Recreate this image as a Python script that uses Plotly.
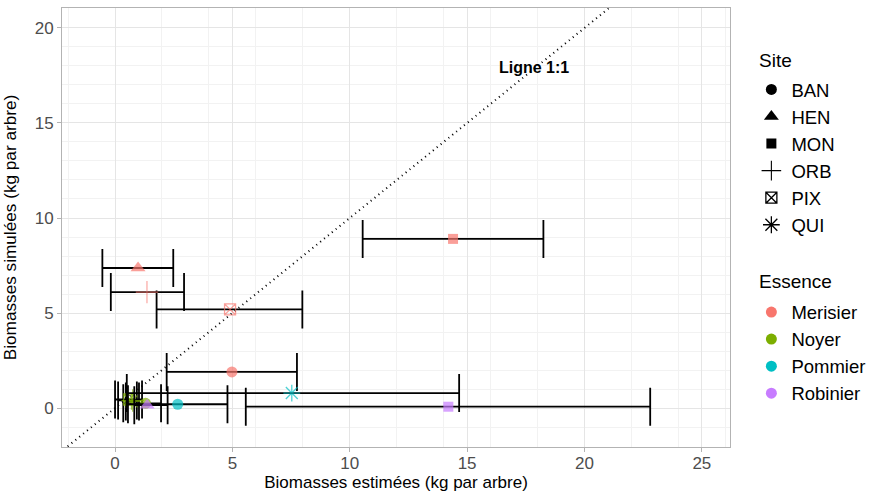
import plotly.graph_objects as go

# ---- data ----
essence = ["Merisier", "Merisier", "Merisier", "Merisier", "Merisier",
           "Noyer", "Noyer", "Noyer", "Noyer",
           "Pommier", "Pommier",
           "Robinier", "Robinier"]
site = ["BAN", "HEN", "MON", "ORB", "PIX",
        "BAN", "ORB", "PIX", "QUI",
        "BAN", "QUI",
        "HEN", "MON"]
biomasse_estimee = [4.98, 0.98, 14.4, 1.36, 4.9,
                    1.3, 0.75, 0.6, 0.7,
                    2.67, 7.53,
                    1.37, 14.2]
biomasse_min = [2.2, -0.54, 10.55, -0.18, 1.77,
                0.35, 0.13, 0.0, 0.46,
                0.55, 0.5,
                0.82, 5.57]
biomasse_max = [7.75, 2.48, 18.25, 2.94, 7.98,
                1.96, 0.93, 1.15, 1.02,
                4.79, 14.66,
                2.24, 22.8]
biomasse_simulee = [1.9, 7.37, 8.9, 6.1, 5.19,
                    0.25, 0.4, 0.45, 0.35,
                    0.2, 0.79,
                    0.15, 0.07]

sites = ["BAN", "HEN", "MON", "ORB", "PIX", "QUI"]
essences = ["Merisier", "Noyer", "Pommier", "Robinier"]
x_ticks = [0, 5, 10, 15, 20, 25]
y_ticks = [0, 5, 10, 15, 20]

# ---- styles ----
colors = {"Merisier": "#F8766D", "Noyer": "#7CAE00", "Pommier": "#00BFC4", "Robinier": "#C77CFF"}
symbols = {"BAN": "circle", "HEN": "triangle-up", "MON": "square",
           "ORB": "cross-thin-open", "PIX": "square-x-open", "QUI": "asterisk-open"}
sizes = {"BAN": 11, "HEN": 13, "MON": 10, "ORB": 16, "PIX": 11, "QUI": 14}
legend_sizes = {"BAN": 11, "HEN": 13, "MON": 10, "ORB": 14, "PIX": 11, "QUI": 14}
lwidths = {"BAN": 0, "HEN": 0, "MON": 0, "ORB": 1.1, "PIX": 1.3, "QUI": 1.3}
FONT = "Liberation Sans, Arial, sans-serif"

fig = go.Figure()

# 1:1 line
fig.add_trace(go.Scatter(x=[-5, 30], y=[-5, 30], mode="lines",
                         line=dict(color="black", width=2, dash="1px,4px"),
                         showlegend=False, hoverinfo="skip"))

for ess in essences:
    idx = [i for i, e in enumerate(essence) if e == ess]
    xs = [biomasse_estimee[i] for i in idx]
    ys = [biomasse_simulee[i] for i in idx]
    plus = [biomasse_max[i] - biomasse_estimee[i] for i in idx]
    minus = [biomasse_estimee[i] - biomasse_min[i] for i in idx]
    ss = [site[i] for i in idx]
    fig.add_trace(go.Scatter(
        x=xs, y=ys, mode="markers", showlegend=False,
        marker=dict(color=colors[ess],
                    symbol=[symbols[s] for s in ss],
                    size=[sizes[s] for s in ss],
                    line=dict(color=colors[ess], width=[lwidths[s] for s in ss])),
        error_x=dict(type="data", symmetric=False, array=plus, arrayminus=minus,
                     color="black", thickness=1.8, width=19),
    ))

# legend: Site
for s in sites:
    fig.add_trace(go.Scatter(
        x=[None], y=[None], mode="markers", name=s, legend="legend", legendgroup="s_" + s,
        marker=dict(color="black", symbol=symbols[s], size=legend_sizes[s],
                    line=dict(color="black", width=lwidths[s])),
    ))
# legend: Essence
for ess in essences:
    fig.add_trace(go.Scatter(
        x=[None], y=[None], mode="markers", name=ess, legend="legend2", legendgroup="e_" + ess,
        marker=dict(color=colors[ess], symbol="circle", size=11),
    ))

fig.add_annotation(x=17.85, y=17.9, text="<b>Ligne 1:1</b>", showarrow=False,
                   font=dict(family=FONT, size=16, color="black"))

# legend titles
fig.add_annotation(x=1.0404, y=0.8815, xref="paper", yref="paper", xanchor="left", yanchor="middle",
                   text="Site", showarrow=False, font=dict(family=FONT, size=19, color="black"))
fig.add_annotation(x=1.0404, y=0.3759, xref="paper", yref="paper", xanchor="left", yanchor="middle",
                   text="Essence", showarrow=False, font=dict(family=FONT, size=19, color="black"))

axis_common = dict(
    showgrid=True, gridcolor="#E5E5E5", gridwidth=1,
    minor=dict(showgrid=True, gridcolor="#F2F2F2", gridwidth=0.6),
    zeroline=False, showline=True, linecolor="#B3B3B3", linewidth=1, mirror=True,
    ticks="outside", ticklen=4, tickcolor="#B3B3B3",
    tickfont=dict(family=FONT, size=17, color="#4D4D4D"),
    automargin=False,
)

fig.update_layout(
    width=869, height=492,
    margin=dict(l=62, r=139, t=8, b=45, autoexpand=False),
    paper_bgcolor="white", plot_bgcolor="white",
    font=dict(family=FONT, color="black"),
    xaxis=dict(range=[-2.26, 26.2], tickvals=x_ticks, ticklabelstandoff=-3,
               title=dict(text="Biomasses estimées (kg par arbre)", font=dict(size=17)),
               **axis_common),
    yaxis=dict(range=[-2.05, 21.05], tickvals=y_ticks,
               title=dict(text="Biomasses simulées (kg par arbre)", font=dict(size=17.2)),
               **axis_common),
    legend=dict(x=1.032, y=0.8566, xanchor="left", yanchor="top",
                font=dict(family=FONT, size=18.5), bgcolor="rgba(0,0,0,0)",
                itemsizing="trace", tracegroupgap=0),
    legend2=dict(x=1.032, y=0.3496, xanchor="left", yanchor="top",
                 font=dict(family=FONT, size=18.5), bgcolor="rgba(0,0,0,0)",
                 itemsizing="trace", tracegroupgap=0),
)

fig.write_html("out.html")
